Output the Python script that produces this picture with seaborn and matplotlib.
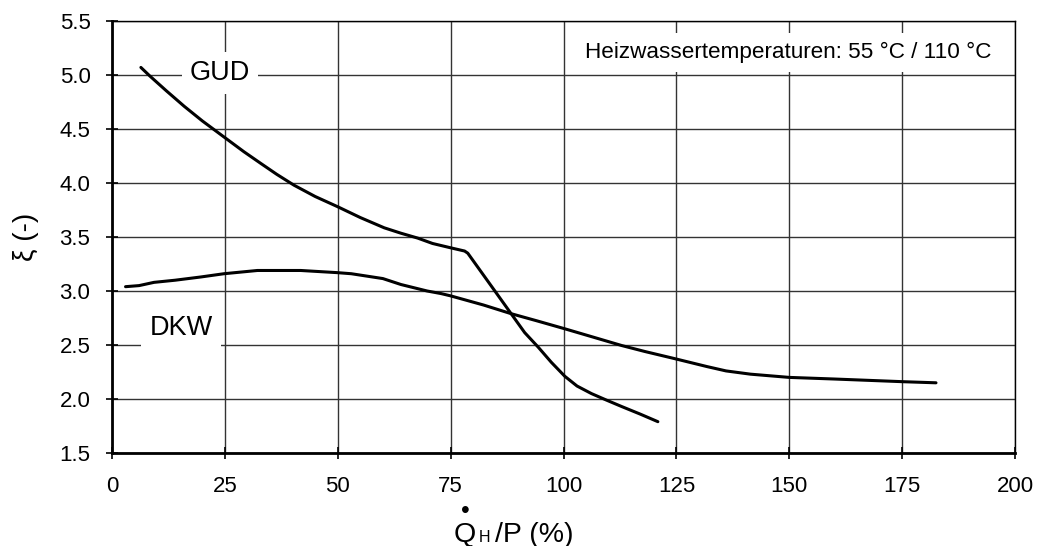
import matplotlib
matplotlib.use("Agg")
import matplotlib.pyplot as plt
import seaborn as sns
import pandas as pd

gud_x = [6.4, 8.4, 12, 16, 20, 25, 29.2, 33, 36.5, 40.3, 45, 50, 55, 60.3, 64, 67.7, 71, 75, 78.1, 78.8,
         88.4, 91.4, 94.4, 97.3, 100.3, 103, 106.2, 109.5, 112.9, 117, 120.9]
gud_y = [5.07, 4.99, 4.855, 4.71, 4.575, 4.42, 4.29, 4.18, 4.08, 3.98, 3.875, 3.78, 3.68, 3.585, 3.535, 3.49, 3.44, 3.40, 3.37, 3.35,
         2.79, 2.615, 2.48, 2.34, 2.21, 2.12, 2.05, 1.99, 1.93, 1.86, 1.79]

dkw_x = [3, 6, 9.3, 14, 19.7, 24.8, 32.2, 41.8, 49.9, 53, 60, 64, 69.8, 72.9, 75, 82.3, 88.4, 94, 100.3, 106,
         112.9, 118, 124.5, 131.8, 136, 141.4, 150, 160, 175.3, 182.5]
dkw_y = [3.04, 3.05, 3.08, 3.10, 3.13, 3.16, 3.19, 3.19, 3.17, 3.16, 3.115, 3.06, 3.00, 2.976, 2.955, 2.87, 2.79, 2.725, 2.65, 2.58,
         2.495, 2.44, 2.375, 2.30, 2.26, 2.23, 2.20, 2.185, 2.16, 2.15]

x_ticks = [0, 25, 50, 75, 100, 125, 150, 175, 200]
y_ticks = [1.5, 2.0, 2.5, 3.0, 3.5, 4.0, 4.5, 5.0, 5.5]
y_tick_labels = ["1.5", "2.0", "2.5", "3.0", "3.5", "4.0", "4.5", "5.0", "5.5"]

sns.set_theme(style="white")
plt.rcParams['font.family'] = ['Liberation Sans', 'DejaVu Sans']

W, H = 1037, 546
fig = plt.figure(figsize=(W / 100, H / 100), dpi=100)
ax = fig.add_axes([112 / W, 1 - 453 / H, (1015 - 112) / W, (453 - 21) / H])

df_g = pd.DataFrame({"x": gud_x, "y": gud_y})
df_d = pd.DataFrame({"x": dkw_x, "y": dkw_y})
sns.lineplot(data=df_g, x="x", y="y", ax=ax, color="black", lw=2.2, estimator=None, sort=False)
sns.lineplot(data=df_d, x="x", y="y", ax=ax, color="black", lw=2.2, estimator=None, sort=False)

ax.set_xlim(0, 200)
ax.set_ylim(1.5, 5.5)
ax.set_xticks(x_ticks)
ax.set_yticks(y_ticks)
ax.set_yticklabels(y_tick_labels)
ax.grid(True, color="#333333", lw=1.0)
ax.set_axisbelow(True)
for s in ["top", "right"]:
    ax.spines[s].set_color("black")
    ax.spines[s].set_linewidth(1.0)
for s in ["left", "bottom"]:
    ax.spines[s].set_color("black")
    ax.spines[s].set_linewidth(2.0)
ax.tick_params(axis="both", direction="inout", length=9, width=1.2, colors="black",
               labelsize=16, labelcolor="black", bottom=True, left=True)
ax.tick_params(axis="x", pad=12)
ax.tick_params(axis="y", pad=11)

ax.set_xlabel("")
ax.set_ylabel("ξ (-)", fontsize=20, color="black", labelpad=15)

# x-axis label: Q with dot, small H, "/P (%)"
base = 1 - 542 / H
fig.text(454 / W, base, "Q", fontsize=20.5, ha="left", va="baseline", color="black")
fig.text(465 / W, 1 - 518 / H, "•", fontsize=18, ha="center", va="baseline", color="black")
fig.text(479 / W, base, "H", fontsize=11.5, ha="left", va="baseline", color="black")
fig.text(495 / W, base, "/P (%)", fontsize=20.5, ha="left", va="baseline", color="black")

bbox = dict(boxstyle="square,pad=0.3", fc="white", ec="none")
ax.text(23.9, 5.02, "GUD", fontsize=19.5, ha="center", va="center", bbox=bbox, color="black")
ax.text(15.3, 2.66, "DKW", fontsize=19.5, ha="center", va="center", bbox=bbox, color="black")
ax.text(149.7, 5.21, "Heizwassertemperaturen: 55 °C / 110 °C", fontsize=16.2, ha="center", va="center",
        bbox=dict(boxstyle="square,pad=0.4", fc="white", ec="none"), color="black")

fig.savefig("out.png", dpi=100)
